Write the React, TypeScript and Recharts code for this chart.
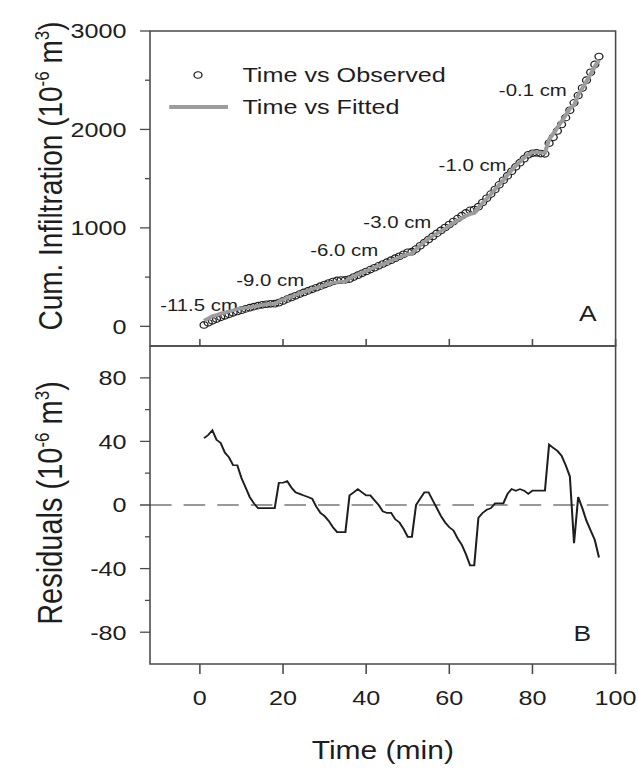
import React from 'react';
import { LineChart, Line, XAxis, YAxis, ReferenceArea, ReferenceLine, ReferenceDot, Legend } from 'recharts';

// time (min)
const time = [
  1, 2, 3, 4, 5, 6, 7, 8, 9, 10, 11, 12, 13, 14, 15, 16, 17, 18, 19, 20,
  21, 22, 23, 24, 25, 26, 27, 28, 29, 30, 31, 32, 33, 34, 35, 36, 37, 38, 39, 40,
  41, 42, 43, 44, 45, 46, 47, 48, 49, 50, 51, 52, 53, 54, 55, 56, 57, 58, 59, 60,
  61, 62, 63, 64, 65, 66, 67, 68, 69, 70, 71, 72, 73, 74, 75, 76, 77, 78, 79, 80,
  81, 82, 83, 84, 85, 86, 87, 88, 89, 90, 91, 92, 93, 94, 95, 96,
];

// cumulative infiltration, observed (10^-6 m3)
const observed = [
  14, 36, 56, 74, 91, 107, 122, 137, 151, 164, 177, 189, 200, 210, 218, 224, 228, 230,
  240, 258, 276, 293, 310, 327, 344, 360, 376, 392, 408, 424, 440, 455, 466, 470, 472,
  480, 500, 519, 538, 557, 576, 595, 614, 633, 652, 672, 692, 712, 732, 752, 758,
  785, 818, 850, 882, 913, 944, 974, 1004, 1034, 1064, 1094, 1124, 1152, 1178, 1186,
  1215, 1258, 1300, 1343, 1390, 1437, 1484, 1530, 1575, 1620, 1662, 1703, 1742, 1758, 1762, 1755, 1752,
  1860, 1920, 1985, 2050, 2120, 2195, 2270, 2345, 2420, 2500, 2580, 2660, 2740,
];

// cumulative infiltration, fitted
const fitted = [
  56, 80, 103, 115, 130, 140, 152, 162, 176, 181, 188, 194, 201, 208, 216, 222, 226, 228,
  254, 272, 291, 304, 318, 334, 350, 365, 380, 391, 403, 417, 430, 441, 449, 453, 455,
  486, 508, 529, 546, 563, 582, 598, 614, 629, 647, 667, 683, 701, 717, 732, 738,
  785, 822, 858, 890, 916, 942, 967, 993, 1020, 1048, 1073, 1099, 1121, 1140, 1148,
  1207, 1253, 1297, 1341, 1391, 1438, 1485, 1537, 1585, 1629, 1672, 1712, 1749, 1767, 1771, 1764, 1761,
  1898, 1956, 2019, 2081, 2145, 2213, 2246, 2350, 2418, 2490, 2564, 2638, 2707,
];

// residuals (10^-6 m3)
const residual = [
  42, 44, 47, 41, 39, 33, 30, 25, 25, 17, 11, 5, 1, -2, -2, -2, -2, -2,
  14, 14, 15, 11, 8, 7, 6, 5, 4, -1, -5, -7, -10, -14, -17, -17, -17,
  6, 8, 10, 8, 6, 6, 3, 0, -4, -5, -5, -9, -11, -15, -20, -20,
  0, 4, 8, 8, 3, -2, -7, -11, -14, -16, -21, -25, -31, -38, -38,
  -8, -5, -3, -2, 1, 1, 1, 7, 10, 9, 10, 9, 7, 9, 9, 9, 9,
  38, 36, 34, 31, 25, 18, -24, 5, -2, -10, -16, -22, -33,
];

const stageNames = ['-11.5 cm', '-9.0 cm', '-6.0 cm', '-3.0 cm', '-1.0 cm', '-0.1 cm'];
const xTicks = [0, 20, 40, 60, 80, 100];
const infTicks = [0, 500, 1000, 1500, 2000, 2500, 3000];
const resTicks = [-80, -60, -40, -20, 0, 20, 40, 60, 80];

// where the stage names sit (time, infiltration)
const stageSpots = [
  [-0.2, 216],
  [16.9, 470],
  [34.7, 775],
  [47.5, 1063],
  [65.6, 1639],
  [80.1, 2401],
];

const rows = time.map((t, i) => ({ t, obs: observed[i], fit: fitted[i], res: residual[i] }));

// the original figure is stretched sideways, so draw narrow and scale x
const SX = 1.2;
const W = 532;
const INK = '#1e1e1e';
const FRAME = '#4a4a4a';
const GRAY = '#9c9c9c';

const makeYTick = (step: number) => (props: any) => {
  const { x, y, payload } = props;
  const major = payload.value % step === 0;
  return (
    <g>
      <line x1={x - (major ? 8.3 : 4.2)} x2={x} y1={y} y2={y} stroke={FRAME} strokeWidth={1.3} />
      {major && (
        <text x={x - 19.5} y={y} dy={7.5} textAnchor="end" fontSize={21} fill={INK}>
          {payload.value}
        </text>
      )}
    </g>
  );
};

const TopXTick = (props: any) => {
  const { x, y } = props;
  return <line x1={x} x2={x} y1={y} y2={y - 7} stroke={FRAME} strokeWidth={1.3} />;
};

const BottomXTick = (props: any) => {
  const { x, y, payload } = props;
  return (
    <g>
      <line x1={x} x2={x} y1={y} y2={y + 10} stroke={FRAME} strokeWidth={1.3} />
      <text x={x} y={y + 41} textAnchor="middle" fontSize={21} fill={INK}>
        {payload.value}
      </text>
    </g>
  );
};

const YTitle = ({ cy, name, size }: { cy: number; name: string; size: number }) => (
  <text
    x={52}
    y={cy}
    transform={`rotate(-90, 52, ${cy})`}
    textAnchor="middle"
    fontSize={size}
    fill={INK}
  >
    {name} (10
    <tspan dy={-11} fontSize={17}>-6</tspan>
    <tspan dy={11}> m</tspan>
    <tspan dy={-11} fontSize={17}>3</tspan>
    <tspan dy={11}>)</tspan>
  </text>
);

const TimeTitle = () => (
  <text x={319} y={424} textAnchor="middle" fontSize={25} fill={INK}>
    Time (min)
  </text>
);

const LegendBox = () => (
  <svg width={260} height={70} style={{ display: 'block', overflow: 'visible' }}>
    <circle cx={35} cy={18} r={3.3} fill="none" stroke={INK} strokeWidth={1.1} />
    <text x={72} y={18} dy={7.5} fontSize={21} fill={INK}>Time vs Observed</text>
    <line x1={11} x2={60} y1={50} y2={50} stroke={GRAY} strokeWidth={4} />
    <text x={72} y={50} dy={7.5} fontSize={21} fill={INK}>Time vs Fitted</text>
  </svg>
);

const App = () => (
  <div
    style={{
      position: 'absolute',
      left: 0,
      top: 0,
      width: W,
      height: 772,
      transform: `scaleX(${SX})`,
      transformOrigin: 'left top',
      fontFamily: "'Liberation Sans', Arial, sans-serif",
      background: '#fff',
    }}
  >
    <div style={{ position: 'absolute', left: 0, top: 0 }}>
      <LineChart width={W} height={361} data={rows} margin={{ top: 31, right: 19, bottom: 0, left: 65 }}>
        <XAxis
          dataKey="t"
          type="number"
          domain={[-12, 100]}
          ticks={xTicks}
          interval={0}
          height={15}
          tickSize={0}
          tickMargin={0}
          axisLine={false}
          tickLine={false}
          tick={TopXTick}
        />
        <YAxis
          type="number"
          domain={[-200, 3000]}
          ticks={infTicks}
          interval={0}
          width={60}
          tickSize={0}
          tickMargin={0}
          axisLine={false}
          tickLine={false}
          tick={makeYTick(1000)}
          label={<YTitle cy={176} name="Cum. Infiltration" size={28} />}
        />
        <ReferenceArea x1={-12} x2={100} y1={-200} y2={3000} fill="none" stroke={FRAME} strokeWidth={1.3} ifOverflow="visible" />
        <Line dataKey="obs" stroke="none" isAnimationActive={false} legendType="none"
          dot={{ r: 3.3, fill: 'none', stroke: INK, strokeWidth: 1.1 }} />
        {stageNames.map((name, i) => (
          <ReferenceDot key={name} x={stageSpots[i][0]} y={stageSpots[i][1]} r={0} stroke="none"
            label={{ value: name, position: 'center', fontSize: 17, fill: INK }} />
        ))}
        <ReferenceDot x={93.3} y={135} r={0} stroke="none"
          label={{ value: 'A', position: 'center', fontSize: 22, fill: INK }} />
        <Legend layout="vertical" align="center" verticalAlign="middle"
          wrapperStyle={{ left: 130, top: 57, width: 260, height: 70 }}
          content={() => <LegendBox />} />
      </LineChart>
    </div>
    {/* fitted curve laid over the circles, same plot box */}
    <div style={{ position: 'absolute', left: 0, top: 0, pointerEvents: 'none' }}>
      <LineChart width={W} height={361} data={rows} margin={{ top: 31, right: 19, bottom: 15, left: 125 }}>
        <XAxis dataKey="t" type="number" domain={[-12, 100]} hide />
        <YAxis type="number" domain={[-200, 3000]} hide />
        <Line dataKey="fit" stroke={GRAY} strokeWidth={3.5} dot={false} isAnimationActive={false} />
      </LineChart>
    </div>
    <div style={{ position: 'absolute', left: 0, top: 335 }}>
      <LineChart width={W} height={429} data={rows} margin={{ top: 11, right: 19, bottom: 0, left: 65 }}>
        <XAxis
          dataKey="t"
          type="number"
          domain={[-12, 100]}
          ticks={xTicks}
          interval={0}
          height={100}
          tickSize={0}
          tickMargin={0}
          axisLine={false}
          tickLine={false}
          tick={BottomXTick}
          label={<TimeTitle />}
        />
        <YAxis
          type="number"
          domain={[-100, 100]}
          ticks={resTicks}
          interval={0}
          width={60}
          tickSize={0}
          tickMargin={0}
          axisLine={false}
          tickLine={false}
          tick={makeYTick(40)}
          label={<YTitle cy={168} name="Residuals" size={29} />}
        />
        <ReferenceArea x1={-12} x2={100} y1={-100} y2={100} fill="none" stroke={FRAME} strokeWidth={1.3} ifOverflow="visible" />
        <ReferenceLine y={0} stroke="#333" strokeWidth={1.2} strokeDasharray="18 10" />
        <Line dataKey="res" stroke={INK} strokeWidth={1.7} dot={false} isAnimationActive={false} />
        <ReferenceDot x={92} y={-80.7} r={0} stroke="none"
          label={{ value: 'B', position: 'center', fontSize: 22, fill: INK }} />
      </LineChart>
    </div>
  </div>
);

export default App;
